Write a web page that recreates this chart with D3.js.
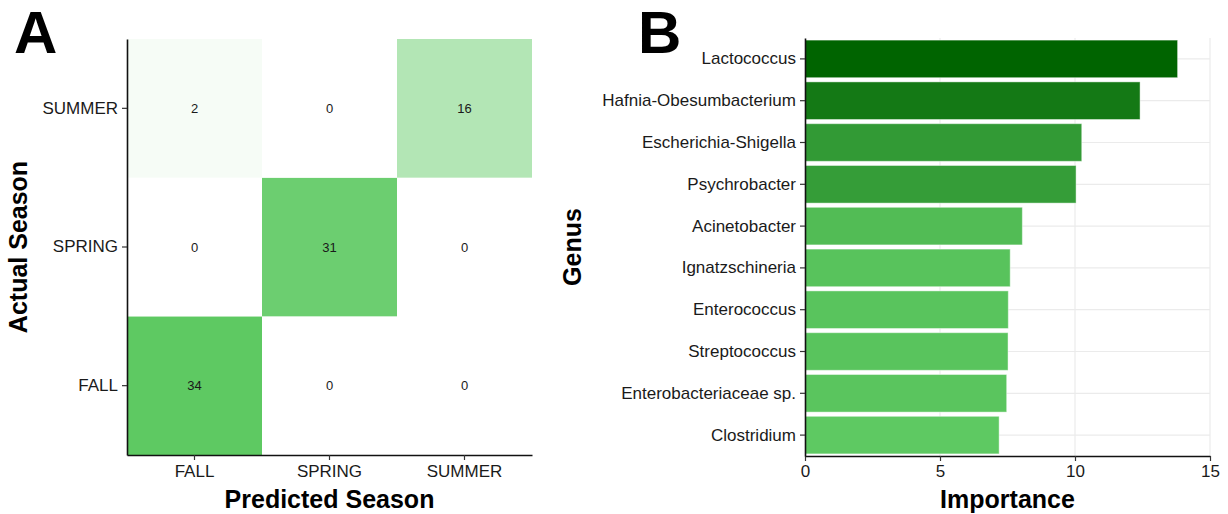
<!DOCTYPE html>
<html>
<head>
<meta charset="utf-8">
<script src="https://cdn.jsdelivr.net/npm/d3@7"></script>
<style>
  html, body { margin: 0; padding: 0; background: #ffffff; }
  svg { display: block; font-family: "Liberation Sans", Arial, Helvetica, sans-serif; }
</style>
</head>
<body>
<svg id="fig" width="1228" height="514"></svg>
<script>
// Confusion matrix: rows = actual season, columns = predicted season
const actualSeasons = ["FALL", "SPRING", "SUMMER"];
const predictedSeasons = ["FALL", "SPRING", "SUMMER"];
const countsFall = [34, 0, 0];
const countsSpring = [0, 31, 0];
const countsSummer = [2, 0, 16];
const counts = [countsFall, countsSpring, countsSummer];

// Random-forest feature importance by genus
const genera = [
  "Lactococcus", "Hafnia-Obesumbacterium", "Escherichia-Shigella", "Psychrobacter",
  "Acinetobacter", "Ignatzschineria", "Enterococcus", "Streptococcus",
  "Enterobacteriaceae sp.", "Clostridium"
];
const importance = [13.80, 12.41, 10.25, 10.04, 8.05, 7.60, 7.53, 7.52, 7.47, 7.19];
const importanceTicks = [0, 5, 10, 15];

const svg = d3.select("#fig");
const textColor = "#1a1a1a";

// ---------- Panel A: confusion matrix ----------
const A = { left: 127, right: 532, top: 39, bottom: 455 };
const xA = d3.scaleBand().domain(predictedSeasons).range([A.left, A.right]);
const yA = d3.scaleBand().domain(actualSeasons).range([A.bottom, A.top]);
const maxCount = d3.max(counts.flat());
const fillA = d3.scaleLinear().domain([0, maxCount])
  .range(["#ffffff", "#5ec962"]).interpolate(d3.interpolateRgb);

const cells = [];
actualSeasons.forEach((a, i) => predictedSeasons.forEach((p, j) =>
  cells.push({ actual: a, predicted: p, n: counts[i][j] })));

const gA = svg.append("g");
gA.selectAll("rect.cell").data(cells).join("rect")
  .attr("class", "cell")
  .attr("x", d => xA(d.predicted))
  .attr("y", d => yA(d.actual))
  .attr("width", xA.bandwidth())
  .attr("height", yA.bandwidth())
  .attr("fill", d => fillA(d.n));

gA.selectAll("text.count").data(cells).join("text")
  .attr("class", "count")
  .attr("x", d => xA(d.predicted) + xA.bandwidth() / 2)
  .attr("y", d => yA(d.actual) + yA.bandwidth() / 2)
  .attr("dy", "0.36em")
  .attr("text-anchor", "middle")
  .attr("font-size", 13)
  .attr("fill", textColor)
  .text(d => d.n);

function styleAxis(g) {
  g.selectAll(".domain").attr("stroke", "#111").attr("stroke-width", 1.6);
  g.selectAll(".tick line").attr("stroke", "#333").attr("stroke-width", 1.2);
  g.selectAll(".tick text").attr("fill", textColor)
    .attr("font-size", 17).attr("font-family", "Liberation Sans, Arial, sans-serif");
}

gA.append("g").attr("transform", `translate(0,${A.bottom})`)
  .call(d3.axisBottom(xA).tickSize(5).tickSizeOuter(0).tickPadding(5))
  .call(styleAxis);
gA.append("g").attr("transform", `translate(${A.left},0)`)
  .call(d3.axisLeft(yA).tickSize(5).tickSizeOuter(0).tickPadding(4))
  .call(styleAxis);

gA.append("text")
  .attr("x", (A.left + A.right) / 2).attr("y", 508)
  .attr("text-anchor", "middle").attr("font-size", 25).attr("font-weight", "bold")
  .attr("fill", "#000").text("Predicted Season");
gA.append("text")
  .attr("transform", `translate(27,${(A.top + A.bottom) / 2}) rotate(-90)`)
  .attr("text-anchor", "middle").attr("font-size", 25).attr("font-weight", "bold")
  .attr("fill", "#000").text("Actual Season");
gA.append("text")
  .attr("x", 14).attr("y", 53)
  .attr("font-size", 60).attr("font-weight", "bold").attr("fill", "#000").text("A");

// ---------- Panel B: importance bars ----------
const B = { left: 805, right: 1210, top: 38, bottom: 456 };
const xB = d3.scaleLinear().domain([0, 15]).range([B.left, B.right]);
const yB = d3.scaleBand().domain(genera).range([B.top, B.bottom])
  .paddingInner(0.1).paddingOuter(0.05);
const fillB = d3.scaleLinear().domain([d3.min(importance), d3.max(importance)])
  .range(["#5ec962", "#006400"]).interpolate(d3.interpolateRgb);

const gB = svg.append("g");

// grid
gB.selectAll("line.vgrid").data(importanceTicks.filter(t => t > 0)).join("line")
  .attr("class", "vgrid")
  .attr("x1", d => xB(d)).attr("x2", d => xB(d))
  .attr("y1", B.top).attr("y2", B.bottom)
  .attr("stroke", "#ebebeb").attr("stroke-width", 1.2);
gB.selectAll("line.hgrid").data(genera).join("line")
  .attr("class", "hgrid")
  .attr("x1", B.left).attr("x2", B.right)
  .attr("y1", d => yB(d) + yB.bandwidth() / 2).attr("y2", d => yB(d) + yB.bandwidth() / 2)
  .attr("stroke", "#ebebeb").attr("stroke-width", 1.2);

gB.selectAll("rect.bar").data(genera).join("rect")
  .attr("class", "bar")
  .attr("x", xB(0))
  .attr("y", d => yB(d))
  .attr("width", (d, i) => xB(importance[i]) - xB(0))
  .attr("height", yB.bandwidth())
  .attr("fill", (d, i) => fillB(importance[i]))
  .attr("stroke", "#ffffff").attr("stroke-opacity", 0.45).attr("stroke-width", 1);

gB.append("g").attr("transform", `translate(0,${B.bottom})`)
  .call(d3.axisBottom(xB).tickValues(importanceTicks).tickSize(5).tickSizeOuter(0).tickPadding(4))
  .call(styleAxis);
gB.append("g").attr("transform", `translate(${B.left},0)`)
  .call(d3.axisLeft(yB).tickSize(5).tickSizeOuter(0).tickPadding(4))
  .call(styleAxis);

gB.append("text")
  .attr("x", (B.left + B.right) / 2).attr("y", 508)
  .attr("text-anchor", "middle").attr("font-size", 25).attr("font-weight", "bold")
  .attr("fill", "#000").text("Importance");
gB.append("text")
  .attr("transform", `translate(581,${(B.top + B.bottom) / 2}) rotate(-90)`)
  .attr("text-anchor", "middle").attr("font-size", 25).attr("font-weight", "bold")
  .attr("fill", "#000").text("Genus");
gB.append("text")
  .attr("x", 638).attr("y", 53)
  .attr("font-size", 60).attr("font-weight", "bold").attr("fill", "#000").text("B");
</script>
</body>
</html>
